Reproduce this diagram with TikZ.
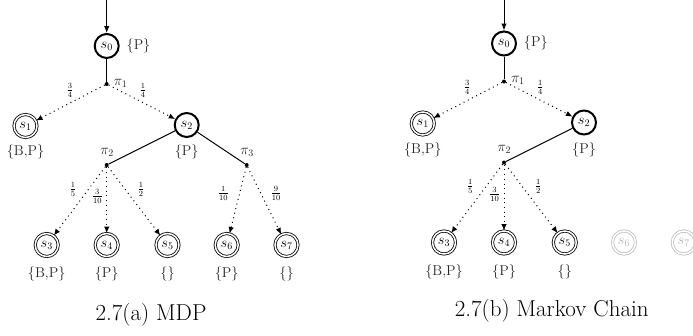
\documentclass[tikz,border=0pt]{standalone}
\usetikzlibrary{arrows.meta}
\newcommand{\stfont}{\fontsize{14.5}{17}\selectfont}
\newcommand{\lbfont}{\fontsize{14.25}{17}\selectfont}
\newcommand{\frfont}{\fontsize{12}{14}\selectfont}
\newcommand{\capfont}{\fontsize{23}{28}\selectfont}
\begin{document}
\begin{tikzpicture}[x=1pt,y=-1pt,
  st/.style={circle, draw, inner sep=0pt, font=\stfont},
  sthick/.style={st, line width=2pt, minimum size=24pt},
  acc/.style={st, double, line width=0.8pt, double distance=1.5pt, minimum size=23pt},
  ghost/.style={acc, draw=black!25, text=black!30},
  pdot/.style={circle, fill, inner sep=0pt, minimum size=4pt},
  sol/.style={line width=1pt},
  prob/.style={line width=1pt, dash pattern=on 1pt off 3.7pt, -{Latex[length=6.5pt,width=5.5pt]}},
  init/.style={line width=1pt, -{Latex[length=7pt,width=5.5pt]}},
  lab/.style={font=\lbfont, inner sep=0pt, text=black!85},
  fraclab/.style={font=\frfont, inner sep=0pt},
  captext/.style={font=\capfont, inner sep=0pt}]
\useasboundingbox (0,0) rectangle (693,335);

% ---------------- (a) MDP ----------------
\coordinate (a-in) at (106.7,0);
\node[sthick] (a-s0) at (106.7,46) {$s_0$};
\node[pdot] (a-d1) at (106.7,84) {};
\node[acc] (a-s1) at (25.5,126) {$s_1$};
\node[sthick] (a-s2) at (186.7,125) {$s_2$};
\node[pdot] (a-d2) at (106.7,165) {};
\node[pdot] (a-d3) at (246.7,165) {};
\node[acc] (a-s3) at (46.7,245) {$s_3$};
\node[acc] (a-s4) at (106.7,245) {$s_4$};
\node[acc] (a-s5) at (167.5,245) {$s_5$};
\node[acc] (a-s6) at (226.7,245) {$s_6$};
\node[acc] (a-s7) at (286.5,245) {$s_7$};

\draw[init] (a-in) -- (a-s0);
\draw[sol] (a-s0) -- (a-d1);
\draw[prob] (a-d1) -- (a-s1);
\draw[prob] (a-d1) -- (a-s2);
\draw[sol] (a-s2) -- (a-d2);
\draw[sol] (a-s2) -- (a-d3);
\draw[prob] (a-d2) -- (a-s3);
\draw[prob] (a-d2) -- (a-s4);
\draw[prob] (a-d2) -- (a-s5);
\draw[prob] (a-d3) -- (a-s6);
\draw[prob] (a-d3) -- (a-s7);

\node[lab] (a-l0) at (138.5,45.5) {\{P\}};
\node[lab] (a-l1) at (25.5,152) {\{B,P\}};
\node[lab] (a-l2) at (186.7,152) {\{P\}};
\node[lab] (a-l3) at (46.7,274) {\{B,P\}};
\node[lab] (a-l4) at (106.7,274) {\{P\}};
\node[lab] (a-l5) at (167.5,274) {\{\}};
\node[lab] (a-l6) at (226.7,274) {\{P\}};
\node[lab] (a-l7) at (286.5,274) {\{\}};
\node[lab] (a-p1) at (120.5,83) {$\pi_1$};
\node[lab] (a-p2) at (107,152) {$\pi_2$};
\node[lab] (a-p3) at (247,152) {$\pi_3$};
\node[fraclab] (a-f1) at (70,90) {$\frac{3}{4}$};
\node[fraclab] (a-f2) at (143,90) {$\frac{1}{4}$};
\node[fraclab] (a-f3) at (73,189) {$\frac{1}{5}$};
\node[fraclab] (a-f4) at (97.3,196.7) {$\frac{3}{10}$};
\node[fraclab] (a-f5) at (141,189) {$\frac{1}{2}$};
\node[fraclab] (a-f6) at (223.3,193.3) {$\frac{1}{10}$};
\node[fraclab] (a-f7) at (276,193.3) {$\frac{9}{10}$};
\node[captext] (a-cap) at (151,315) {2.7(a) MDP};

% ---------------- (b) Markov Chain ----------------
\begin{scope}[shift={(397.3,-2.5)}]
\coordinate (b-in) at (106.7,0);
\node[sthick] (b-s0) at (106.7,46) {$s_0$};
\node[pdot] (b-d1) at (106.7,84) {};
\node[acc] (b-s1) at (25.5,126) {$s_1$};
\node[sthick] (b-s2) at (186.7,125) {$s_2$};
\node[pdot] (b-d2) at (106.7,165) {};
\node[acc] (b-s3) at (46.7,245) {$s_3$};
\node[acc] (b-s4) at (106.7,245) {$s_4$};
\node[acc] (b-s5) at (167.5,245) {$s_5$};
\node[ghost] (b-s6) at (226.7,245) {$s_6$};
\node[ghost] (b-s7) at (286.5,245) {$s_7$};

\draw[init] (b-in) -- (b-s0);
\draw[sol] (b-s0) -- (b-d1);
\draw[prob] (b-d1) -- (b-s1);
\draw[prob] (b-d1) -- (b-s2);
\draw[sol] (b-s2) -- (b-d2);
\draw[prob] (b-d2) -- (b-s3);
\draw[prob] (b-d2) -- (b-s4);
\draw[prob] (b-d2) -- (b-s5);

\node[lab] (b-l0) at (138.5,45.5) {\{P\}};
\node[lab] (b-l1) at (25.5,152) {\{B,P\}};
\node[lab] (b-l2) at (186.7,152) {\{P\}};
\node[lab] (b-l3) at (46.7,274) {\{B,P\}};
\node[lab] (b-l4) at (106.7,274) {\{P\}};
\node[lab] (b-l5) at (167.5,274) {\{\}};
\node[lab] (b-p1) at (120.5,83) {$\pi_1$};
\node[lab] (b-p2) at (107,152) {$\pi_2$};
\node[fraclab] (b-f1) at (70,90) {$\frac{3}{4}$};
\node[fraclab] (b-f2) at (143,90) {$\frac{1}{4}$};
\node[fraclab] (b-f3) at (73,189) {$\frac{1}{5}$};
\node[fraclab] (b-f4) at (97.3,196.7) {$\frac{3}{10}$};
\node[fraclab] (b-f5) at (141,189) {$\frac{1}{2}$};
\node[captext] (b-cap) at (154.4,313) {2.7(b) Markov Chain};
\end{scope}
\end{tikzpicture}
\end{document}
